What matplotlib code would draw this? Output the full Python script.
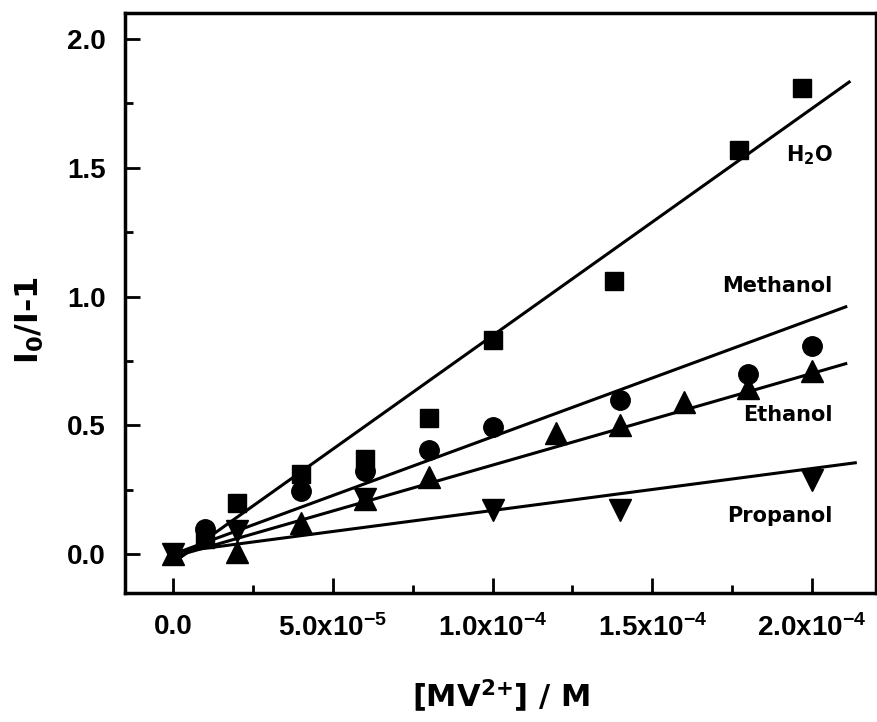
import numpy as np
import matplotlib
matplotlib.use("Agg")
import matplotlib.pyplot as plt
from matplotlib.ticker import MultipleLocator, FixedLocator

plt.rcParams['mathtext.default'] = 'regular'

# Stern-Volmer data: [MV2+] (M) vs I0/I-1
x_h2o = [1e-5, 2e-5, 4e-5, 6e-5, 8e-5, 1e-4, 1.38e-4, 1.77e-4, 1.97e-4]
y_h2o = [0.06, 0.20, 0.31, 0.37, 0.53, 0.83, 1.06, 1.57, 1.81]

x_meoh = [1e-5, 4e-5, 6e-5, 8e-5, 1e-4, 1.4e-4, 1.8e-4, 2e-4]
y_meoh = [0.10, 0.245, 0.325, 0.405, 0.495, 0.60, 0.70, 0.81]

x_etoh = [0, 2e-5, 4e-5, 6e-5, 8e-5, 1.2e-4, 1.4e-4, 1.6e-4, 1.8e-4, 2e-4]
y_etoh = [0, 0.01, 0.12, 0.215, 0.30, 0.47, 0.50, 0.59, 0.645, 0.71]

x_proh = [0, 2e-5, 6e-5, 1e-4, 1.4e-4, 2e-4]
y_proh = [0, 0.09, 0.215, 0.17, 0.17, 0.29]

# linear fits (slope, intercept) and where each fit line stops
fit_slope = [8814, 4560, 3560, 1630]
fit_icpt = [-0.033, 0.0, -0.01, 0.007]
fit_xend = [2.12e-4, 2.11e-4, 2.11e-4, 2.14e-4]

solvents = ['H$_2$O', 'Methanol', 'Ethanol', 'Propanol']
label_y = [1.55, 1.04, 0.54, 0.147]

xticks = [0, 5e-5, 1e-4, 1.5e-4, 2e-4]
xticklabels = ['0.0', '5.0x10$^{-5}$', '1.0x10$^{-4}$', '1.5x10$^{-4}$', '2.0x10$^{-4}$']

fig = plt.figure(figsize=(8.78, 7.22), dpi=100)
ax = fig.add_axes([0.1424, 0.1787, 0.8553, 0.8033])

for k, b, xe in zip(fit_slope, fit_icpt, fit_xend):
    xx = np.array([0, xe])
    ax.plot(xx, k * xx + b, color='black', lw=2.2, solid_capstyle='butt')

series = [(x_h2o, y_h2o, 's', 13), (x_meoh, y_meoh, 'o', 14),
          (x_etoh, y_etoh, '^', 16), (x_proh, y_proh, 'v', 16)]
for (xs, ys, m, ms) in series:
    ax.plot(xs, ys, linestyle='none', marker=m, markersize=ms, color='black')

for name, ly in zip(solvents, label_y):
    ax.text(2.065e-4, ly, name, ha='right', va='center', fontsize=15,
            fontweight='bold', family='DejaVu Sans')

ax.set_xlim(-1.5e-5, 2.2e-4)
ax.set_ylim(-0.15, 2.1)

ax.xaxis.set_major_locator(FixedLocator(xticks))
ax.set_xticklabels(xticklabels)
ax.xaxis.set_minor_locator(MultipleLocator(2.5e-5))
ax.yaxis.set_minor_locator(MultipleLocator(0.25))
ax.set_yticks([0, 0.5, 1.0, 1.5, 2.0])
ax.set_yticklabels(['0.0', '0.5', '1.0', '1.5', '2.0'])

ax.tick_params(which='both', direction='in', width=2, top=False, right=False)
ax.tick_params(which='major', length=11)
ax.tick_params(which='minor', length=6)
ax.tick_params(axis='y', pad=14)
ax.tick_params(axis='x', pad=15)
for lab in ax.get_xticklabels() + ax.get_yticklabels():
    lab.set_family('Liberation Sans')
    lab.set_fontweight('bold')
    lab.set_fontsize(20)

for sp in ax.spines.values():
    sp.set_linewidth(2.5)

ax.set_xlabel('[MV$^{2{+}}$] / M', fontsize=22, fontweight='bold',
              family='DejaVu Sans', labelpad=26)
ax.set_ylabel('I$_0$/I-1', fontsize=23, fontweight='bold',
              family='DejaVu Sans')
ax.yaxis.set_label_coords(-0.105, 0.47)

fig.savefig('out.png', dpi=100)
